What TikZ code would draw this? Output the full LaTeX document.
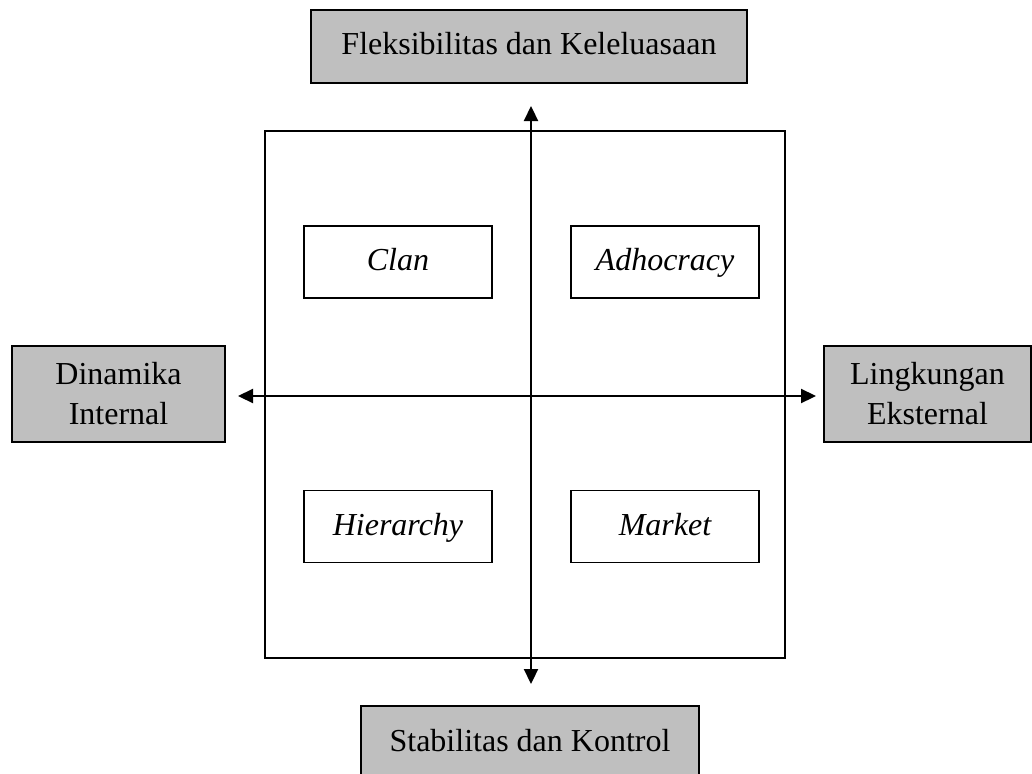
\documentclass[tikz,border=0pt]{standalone}
\usepackage{fontspec}
\setmainfont{Liberation Serif}
\usetikzlibrary{arrows.meta, positioning}

\begin{document}
\begin{tikzpicture}[
  x=1pt, y=-1pt,
  axisbox/.style={rectangle, draw, line width=1.6pt, fill=gray!50, inner sep=0pt, align=center, font=\fontsize{32}{40}\selectfont},
  oneline/.style={text height=22pt, text depth=5pt},
  typebox/.style={rectangle, draw, line width=1.6pt, minimum width=188pt, minimum height=72pt, inner sep=0pt, text height=22pt, text depth=5pt, font=\fontsize{32}{40}\selectfont\itshape},
  arrow/.style={{Triangle[length=15pt, width=14pt]}-{Triangle[length=15pt, width=14pt]}, line width=2.2pt}
]

\useasboundingbox (0,0) rectangle (1032,773);

\node (frame) [rectangle, draw, line width=1.6pt, minimum width=520pt, minimum height=527pt] at (525,394.5) {};

\node (flex) [axisbox, oneline, minimum width=436pt, minimum height=73pt] at (529,46.5) {Fleksibilitas dan Keleluasaan};
\node (stab) [axisbox, oneline, minimum width=338pt, minimum height=73pt] at (530,742.5) {Stabilitas dan Kontrol};
\node (internal) [axisbox, minimum width=213pt, minimum height=96pt] at (118.5,394) {Dinamika\\Internal};
\node (external) [axisbox, minimum width=207pt, minimum height=96pt] at (927.5,394) {Lingkungan\\Eksternal};

\node (clan) [typebox] at (398,262) {Clan};
\node (adhocracy) [typebox] at (665,262) {Adhocracy};
\node (hierarchy) [typebox] at (398,526.5) {Hierarchy};
\node (market) [typebox] at (665,526.5) {Market};

\coordinate (top) at (531,106);
\coordinate (bottom) at (531,684);
\coordinate (left) at (238,396);
\coordinate (right) at (816,396);

\draw [arrow] (top) -- (bottom);
\draw [arrow] (left) -- (right);

\end{tikzpicture}
\end{document}
